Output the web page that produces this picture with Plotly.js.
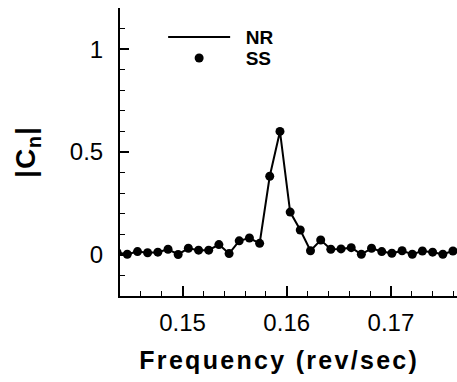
<!DOCTYPE html>
<html>
<head>
<meta charset="utf-8">
<script src="https://cdn.plot.ly/plotly-3.0.1.min.js"></script>
<style>
html,body{margin:0;padding:0;background:#fff;}
#chart{width:457px;height:382px;}
.xtitle{letter-spacing:2.3px;}
.ytitle{letter-spacing:1px;}
</style>
</head>
<body>
<div id="chart"></div>
<script>
// Frequency (rev/sec)
const frequency = [0.14372, 0.14470, 0.14568, 0.14665, 0.14763, 0.14861, 0.14958, 0.15056, 0.15154,
  0.15251, 0.15349, 0.15447, 0.15544, 0.15642, 0.15740, 0.15837, 0.15935, 0.16033, 0.16130,
  0.16228, 0.16326, 0.16423, 0.16521, 0.16619, 0.16716, 0.16814, 0.16912, 0.17009, 0.17107,
  0.17205, 0.17302, 0.17400, 0.17498, 0.17595];
// |Cn| for NR (line) and SS (symbols)
const nrValues = [0.012, 0.003, 0.016, 0.010, 0.013, 0.027, 0.002, 0.032, 0.023,
  0.023, 0.050, 0.006, 0.068, 0.082, 0.056, 0.382, 0.600, 0.208, 0.121,
  0.020, 0.072, 0.027, 0.029, 0.035, 0.003, 0.032, 0.016, 0.008, 0.020,
  0.003, 0.019, 0.013, 0.003, 0.019];
const ssValues = [0.012, 0.003, 0.016, 0.010, 0.013, 0.027, 0.002, 0.032, 0.023,
  0.023, 0.050, 0.006, 0.068, 0.082, 0.056, 0.382, 0.600, 0.208, 0.121,
  0.020, 0.072, 0.027, 0.029, 0.035, 0.003, 0.032, 0.016, 0.008, 0.020,
  0.003, 0.019, 0.013, 0.003, 0.019];
const seriesNames = ['\u00a0\u00a0NR', '\u00a0\u00a0SS'];
const xTickVals = [0.15, 0.16, 0.17];
const xTickText = ['0.15', '0.16', '0.17'];
const yTickVals = [0, 0.5, 1];
const yTickText = ['0', '0.5', '1'];

const font = 'Arial, "Liberation Sans", sans-serif';
const legendFont = {family: font, size: 19, color: '#000', weight: 'bold'};

const traces = [
  {x: frequency, y: nrValues, name: seriesNames[0], mode: 'lines', type: 'scatter',
   line: {color: '#000', width: 2}, legend: 'legend'},
  {x: frequency, y: ssValues, name: seriesNames[1], mode: 'markers', type: 'scatter',
   marker: {color: '#000', size: 9, symbol: 'circle'}, legend: 'legend2'}
];

const layout = {
  width: 457, height: 382,
  margin: {l: 120, r: 0, t: 8, b: 86},
  paper_bgcolor: '#fff', plot_bgcolor: '#fff',
  showlegend: true,
  legend: {x: 0.128, y: 0.965, xanchor: 'left', yanchor: 'top', itemwidth: 62,
    font: legendFont, bgcolor: 'rgba(0,0,0,0)'},
  legend2: {x: 0.128, y: 0.892, xanchor: 'left', yanchor: 'top', itemwidth: 62,
    font: legendFont, bgcolor: 'rgba(0,0,0,0)'},
  xaxis: {
    range: [0.144, 0.17634], showgrid: false, zeroline: false,
    showline: true, linecolor: '#000', linewidth: 2,
    ticks: 'inside', ticklen: 10, tickwidth: 2, tickcolor: '#000',
    tickvals: xTickVals, ticktext: xTickText, ticklabelstandoff: 4,
    minor: {dtick: 0.002, tick0: 0.144, ticks: 'inside', ticklen: 5, tickwidth: 1, tickcolor: '#000'},
    tickfont: {family: font, size: 24, color: '#000'},
    title: {text: 'Frequency (rev/sec)\u00a0\u00a0\u200b', font: {family: font, size: 25, color: '#000', weight: 'bold'}, standoff: 17}
  },
  yaxis: {
    range: [-0.2, 1.2], showgrid: false, zeroline: false,
    showline: true, linecolor: '#000', linewidth: 2,
    ticks: 'inside', ticklen: 9, tickwidth: 2, tickcolor: '#000',
    tickvals: yTickVals, ticktext: yTickText, ticklabelstandoff: 10,
    minor: {dtick: 0.1, tick0: 0, ticks: 'inside', ticklen: 5, tickwidth: 1, tickcolor: '#000'},
    tickfont: {family: font, size: 24, color: '#000'},
    title: {text: '|C<sub>n</sub>|', font: {family: font, size: 28, color: '#000', weight: 'bold'}, standoff: 26}
  }
};

Plotly.newPlot('chart', traces, layout, {displayModeBar: false, staticPlot: true});
</script>
</body>
</html>
